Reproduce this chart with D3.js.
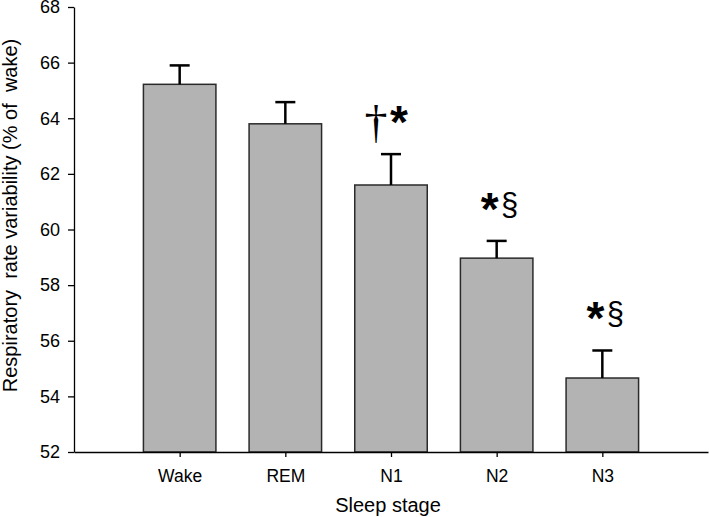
<!DOCTYPE html>
<html>
<head>
    <script src="https://d3js.org/d3.v7.min.js"></script>
    <style>
        body { margin: 0; background: #fff; }
        text { font-family: "Liberation Sans", Arial, sans-serif; fill: #000; }
    </style>
</head>
<body>
    <div id="chart"></div>
    <script>
        // values
        const stages = ["Wake", "REM", "N1", "N2", "N3"];
        const means = [65.22, 63.8, 61.6, 58.97, 54.66];
        const upper = [65.9, 64.58, 62.71, 59.59, 55.65];
        const marks = [null, null, ["†", "*"], ["*", "§"], ["*", "§"]];
        const yTicks = [52, 54, 56, 58, 60, 62, 64, 66, 68];

        const width = 709, height = 517;
        const margin = { top: 7, right: 1, bottom: 65, left: 74 };

        const svg = d3.select("#chart")
            .append("svg")
            .attr("width", width)
            .attr("height", height);

        const x = d3.scaleLinear()
            .domain([0, stages.length + 1])
            .range([margin.left, width - margin.right]);

        const y = d3.scaleLinear()
            .domain([52, 68])
            .range([height - margin.bottom, margin.top]);

        const barW = 72.5;

        // bars
        svg.selectAll(".bar")
            .data(means)
            .join("rect")
            .attr("class", "bar")
            .attr("x", (d, i) => x(i + 1) - barW / 2)
            .attr("y", d => y(d))
            .attr("width", barW)
            .attr("height", d => y(52) - y(d))
            .attr("fill", "#b3b3b3")
            .attr("stroke", "#2a2a2a")
            .attr("stroke-width", 1.5);

        // error bars (upper only)
        const err = svg.selectAll(".err")
            .data(upper)
            .join("g")
            .attr("class", "err")
            .attr("stroke", "#000")
            .attr("stroke-width", 2.5);

        err.append("line")
            .attr("x1", (d, i) => x(i + 1))
            .attr("x2", (d, i) => x(i + 1))
            .attr("y1", (d, i) => y(means[i]))
            .attr("y2", d => y(d));

        err.append("line")
            .attr("x1", (d, i) => x(i + 1) - 10)
            .attr("x2", (d, i) => x(i + 1) + 10)
            .attr("y1", d => y(d))
            .attr("y2", d => y(d));

        // axes
        svg.append("g")
            .attr("transform", `translate(${margin.left},0)`)
            .call(d3.axisLeft(y).tickValues(yTicks).tickSize(6).tickSizeOuter(0).tickPadding(8))
            .call(g => g.selectAll("text").style("font-size", "18px"))
            .call(g => g.selectAll("path, line").attr("stroke", "#000").attr("stroke-width", 1.3));

        svg.append("g")
            .attr("transform", `translate(0,${y(52)})`)
            .call(d3.axisBottom(x).tickValues(d3.range(1, stages.length + 1))
                .tickFormat(i => stages[i - 1]).tickSize(5).tickSizeOuter(0).tickPadding(13))
            .call(g => g.selectAll("text").style("font-size", "17.5px"))
            .call(g => g.selectAll("path, line").attr("stroke", "#000").attr("stroke-width", 1.3));

        // significance marks
        marks.forEach((m, i) => {
            if (!m) return;
            const cx = x(i + 1);
            const top = y(upper[i]);
            m.forEach((s, k) => {
                const t = svg.append("text")
                    .attr("text-anchor", "middle")
                    .text(s);
                if (s === "*") {
                    t.attr("x", cx + (k === 0 ? -7 : 8))
                        .attr("y", top - 16)
                        .style("font-size", "46px")
                        .style("font-weight", "bold");
                } else if (s === "§") {
                    t.attr("x", cx + 13)
                        .attr("y", top - 26)
                        .style("font-size", "31px");
                } else {
                    t.attr("x", cx - 15)
                        .attr("y", top - 16)
                        .style("font-family", "'Liberation Serif', serif")
                        .style("font-size", "46px");
                }
            });
        });

        // axis titles
        svg.append("text")
            .attr("transform", `translate(17,${(margin.top + y(52)) / 2 - 14}) rotate(-90)`)
            .attr("text-anchor", "middle")
            .style("font-size", "20px")
            .style("white-space", "pre")
            .text("Respiratory  rate variability (% of  wake)");

        svg.append("text")
            .attr("x", x(3) - 3)
            .attr("y", 512)
            .attr("text-anchor", "middle")
            .style("font-size", "20px")
            .text("Sleep stage");
    </script>
</body>
</html>
